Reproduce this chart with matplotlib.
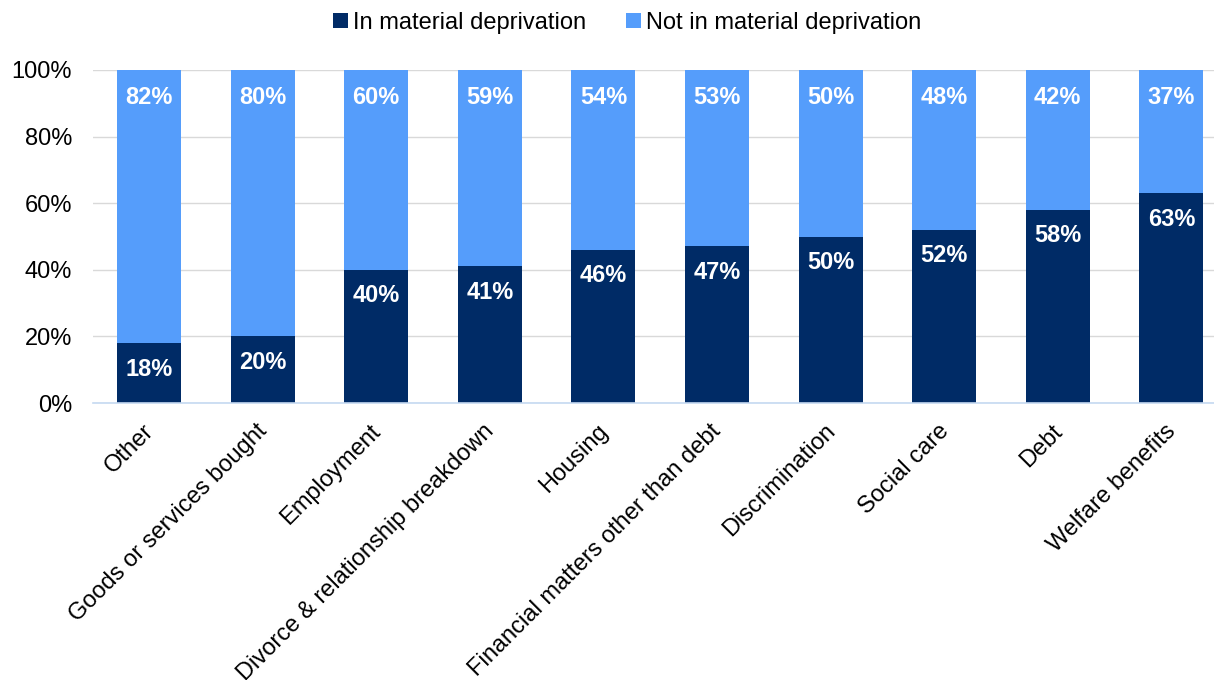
import matplotlib
matplotlib.use("Agg")
import matplotlib.pyplot as plt
import matplotlib.transforms as mtransforms
import numpy as np

plt.rcParams['font.family'] = ['Liberation Sans', 'DejaVu Sans']

categories = ["Other", "Goods or services bought", "Employment",
              "Divorce & relationship breakdown", "Housing",
              "Financial matters other than debt", "Discrimination",
              "Social care", "Debt", "Welfare benefits"]
in_depr = [18, 20, 40, 41, 46, 47, 50, 52, 58, 63]
not_depr = [82, 80, 60, 59, 54, 53, 50, 48, 42, 37]

dark = "#002B66"
light = "#559DFB"

fig = plt.figure(figsize=(12.14, 6.8), dpi=100)
ax = fig.add_axes([93/1214, 1 - 403/680, 1 - 93/1214, (403-70)/680])

x = np.arange(len(categories))
w = 0.565
ax.bar(x, in_depr, w, color=dark, label="In material deprivation", zorder=3)
ax.bar(x, not_depr, w, bottom=in_depr, color=light, label="Not in material deprivation", zorder=3)

for i in range(len(categories)):
    ax.text(x[i], in_depr[i] - 7.8, f"{in_depr[i]}%", ha="center", va="center",
            color="white", fontsize=17, fontweight="bold", zorder=4)
    ax.text(x[i], 100 - 8.2, f"{not_depr[i]}%", ha="center", va="center",
            color="white", fontsize=17, fontweight="bold", zorder=4)

ax.set_ylim(0, 100)
ax.set_xlim(-0.493, 9.375)
ax.set_yticks([0, 20, 40, 60, 80, 100])
ax.set_yticklabels([f"{v}%" for v in [0, 20, 40, 60, 80, 100]], fontsize=17)
ax.yaxis.grid(True, color="#D9D9D9", linewidth=1, zorder=0)
ax.set_xticks(x)
ax.set_xticklabels(categories, rotation=45, ha="right", va="center",
                   rotation_mode="anchor", fontsize=17)
ax.tick_params(axis="both", length=0)
ax.tick_params(axis="y", pad=15)
ax.tick_params(axis="x", pad=18)
offset = mtransforms.ScaledTranslation(1/100, 0, fig.dpi_scale_trans)
for lbl in ax.get_xticklabels():
    lbl.set_transform(lbl.get_transform() + offset)
for s in ["top", "right", "left"]:
    ax.spines[s].set_visible(False)
ax.spines["bottom"].set_color("#C5D9F1")
ax.spines["bottom"].set_linewidth(1.2)
ax.spines["bottom"].set_zorder(5)

ax.legend(loc="upper center", bbox_to_anchor=(627/1214, 1.0), bbox_transform=fig.transFigure,
          ncol=2, frameon=False, fontsize=17, handlelength=0.65, handleheight=0.65,
          handletextpad=0.2, columnspacing=1.7, borderaxespad=0.1)

fig.savefig("out.png", dpi=100)
